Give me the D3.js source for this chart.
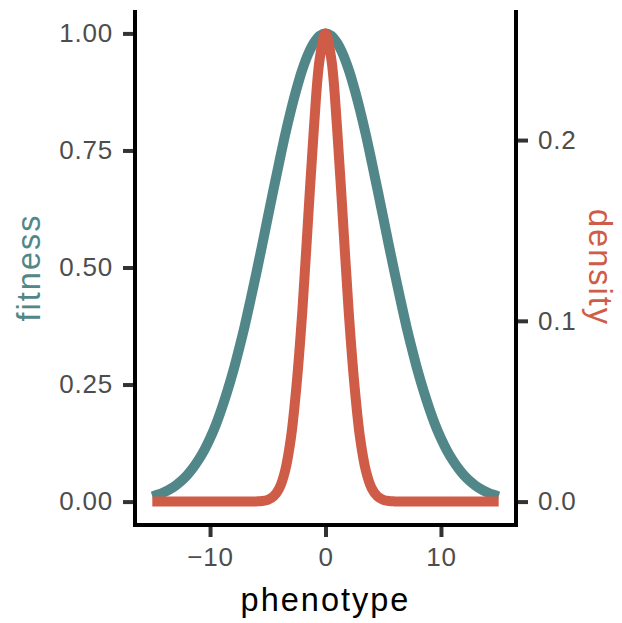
<!DOCTYPE html>
<html>
<head>
<meta charset="utf-8">
<title>fitness and density</title>
<style>
  body { margin: 0; background: #fff; }
  text { font-family: "Liberation Sans", Helvetica, Arial, sans-serif; }
</style>
</head>
<body>
<svg width="622" height="623"></svg>
<script src="https://cdn.jsdelivr.net/npm/d3@7"></script>
<script>
// values (phenotype step 0.5, right half; curves are symmetric)
const halfPhenotype = [0, 0.5, 1, 1.5, 2, 2.5, 3, 3.5, 4, 4.5, 5, 5.5, 6, 6.5, 7, 7.5,
  8, 8.5, 9, 9.5, 10, 10.5, 11, 11.5, 12, 12.5, 13, 13.5, 14, 14.5, 15];
const halfFitness = [1, 0.995, 0.980, 0.956, 0.923, 0.882, 0.835, 0.783, 0.726, 0.667,
  0.607, 0.546, 0.487, 0.430, 0.375, 0.325, 0.278, 0.236, 0.198, 0.164, 0.135, 0.110,
  0.089, 0.071, 0.056, 0.044, 0.034, 0.026, 0.020, 0.015, 0.011];
const halfDensity = [0.259, 0.245, 0.207, 0.157, 0.106, 0.065, 0.035, 0.017, 0.0074,
  0.0029, 0.0010, 0.0003, 0.0001, 0, 0, 0, 0, 0, 0, 0, 0, 0, 0, 0, 0, 0, 0, 0, 0, 0, 0];

const xTicks = [-10, 0, 10];
const fitnessTicks = [0, 0.25, 0.5, 0.75, 1];
const densityTicks = [0, 0.1, 0.2];

const teal = '#528789', red = '#cf5c46';

// mirror the half curves into full ones
const phenotype = halfPhenotype.slice(1).reverse().map(v => -v).concat(halfPhenotype);
const fitness = halfFitness.slice(1).reverse().concat(halfFitness);
const density = halfDensity.slice(1).reverse().concat(halfDensity);
const densityMax = d3.max(density);

const svg = d3.select('svg');
const mLeft = 135, mRight = 516, mTop = 10, mBottom = 525;

const x = d3.scaleLinear().domain([-16.5, 16.5]).range([mLeft, mRight]);
const y = d3.scaleLinear().domain([-0.05, 1.05]).range([mBottom, mTop]);
const y2 = d3.scaleLinear().domain([-0.05 * densityMax, 1.05 * densityMax]).range([mBottom, mTop]);

const lineF = d3.line().x((d, i) => x(phenotype[i])).y(d => y(d)).curve(d3.curveCatmullRom);
const lineD = d3.line().x((d, i) => x(phenotype[i])).y(d => y2(d)).curve(d3.curveCatmullRom);

svg.append('path').datum(fitness).attr('d', lineF)
  .attr('fill', 'none').attr('stroke', teal).attr('stroke-width', 10);
svg.append('path').datum(density).attr('d', lineD)
  .attr('fill', 'none').attr('stroke', red).attr('stroke-width', 10);

function styleAxis(g) {
  g.select('.domain').remove();
  g.selectAll('.tick line').attr('stroke', '#333').attr('stroke-width', 4);
  g.selectAll('.tick text').attr('fill', '#4d4d4d').attr('font-size', 26)
    .attr('letter-spacing', 0.8)
    .attr('font-family', '"Liberation Sans", Helvetica, Arial, sans-serif');
}

svg.append('g').attr('transform', `translate(${mLeft},0)`)
  .call(d3.axisLeft(y).tickValues(fitnessTicks).tickFormat(d3.format('.2f')).tickSize(12).tickPadding(10))
  .call(styleAxis);
svg.append('g').attr('transform', `translate(${mRight},0)`)
  .call(d3.axisRight(y2).tickValues(densityTicks).tickFormat(d3.format('.1f')).tickSize(12).tickPadding(10))
  .call(styleAxis);
svg.append('g').attr('transform', `translate(0,${mBottom})`)
  .call(d3.axisBottom(x).tickValues(xTicks).tickFormat(d => d < 0 ? '\u2212' + Math.abs(d) : d).tickSize(12).tickPadding(11))
  .call(styleAxis);

// axis lines
svg.append('line').attr('x1', mLeft).attr('x2', mLeft).attr('y1', mTop).attr('y2', mBottom + 2)
  .attr('stroke', '#000').attr('stroke-width', 4);
svg.append('line').attr('x1', mRight).attr('x2', mRight).attr('y1', mTop).attr('y2', mBottom + 2)
  .attr('stroke', '#000').attr('stroke-width', 4);
svg.append('line').attr('x1', mLeft - 2).attr('x2', mRight + 2).attr('y1', mBottom).attr('y2', mBottom)
  .attr('stroke', '#000').attr('stroke-width', 4);

// titles
svg.append('text').attr('x', (mLeft + mRight) / 2).attr('y', 611).attr('text-anchor', 'middle')
  .attr('font-size', 32.5).attr('letter-spacing', 2).attr('fill', '#000').text('phenotype');
svg.append('text').attr('transform', `translate(40,${(mTop + mBottom) / 2}) rotate(-90)`)
  .attr('text-anchor', 'middle').attr('font-size', 32.5).attr('letter-spacing', 2).attr('fill', teal).text('fitness');
svg.append('text').attr('transform', `translate(589,${(mTop + mBottom) / 2}) rotate(90)`)
  .attr('text-anchor', 'middle').attr('font-size', 32.5).attr('letter-spacing', 2).attr('fill', red).text('density');
</script>
</body>
</html>
